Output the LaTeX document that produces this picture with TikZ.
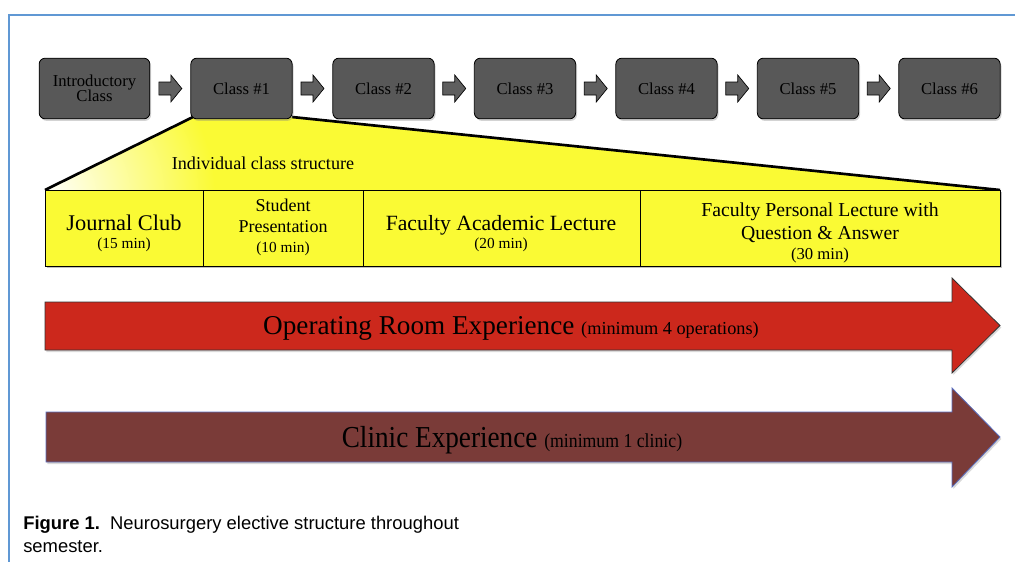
\documentclass[tikz,border=0pt]{standalone}
\usepackage{fontspec}
\setmainfont{Liberation Serif}
\newfontfamily\capfont{Liberation Sans}
\usetikzlibrary{shadows,calc}
\definecolor{frameblue}{RGB}{96,152,212}
\definecolor{boxgray}{RGB}{88,88,88}
\definecolor{arrgray}{RGB}{95,95,95}
\definecolor{tabyellow}{RGB}{250,250,52}
\definecolor{orred}{RGB}{204,40,28}
\definecolor{clbrown}{RGB}{122,59,56}
\definecolor{clborder}{RGB}{90,110,190}
\newcommand{\fs}[1]{\fontsize{#1pt}{1.15\dimexpr#1pt\relax}\selectfont}
\begin{document}
\begin{tikzpicture}[x=0.75pt,y=-0.75pt,
  classbox/.style={draw=black, line width=0.6pt, fill=boxgray, rounded corners=4.5pt,
    minimum width=76pt, minimum height=45.5pt, inner sep=0pt, align=center,
    font=\fs{12.5}, drop shadow={opacity=0.35, shadow xshift=1pt, shadow yshift=-1.5pt}},
  cell/.style={draw=black, line width=1pt, fill=tabyellow, minimum height=57pt,
    inner sep=0pt, anchor=north west},
  ctext/.style={anchor=base, inner sep=0pt},
  blockarr/.pic={
    \filldraw[fill=arrgray, draw=black, line width=0.5pt]
      (-11.5,-6.5) -- (0.5,-6.5) -- (0.5,-13.5) -- (11.5,0) -- (0.5,13.5) -- (0.5,6.5) -- (-11.5,6.5) -- cycle;
  }
]
\useasboundingbox (0,0) rectangle (1015,562);
% frame
\draw[frameblue, line width=1.6pt] (1015,15) -- (9,15) -- (9,562);

% trapezoid
\coordinate (tl) at (193,117);
\coordinate (tr) at (292,117);
\coordinate (bl) at (45,190);
\coordinate (br) at (1000,190);
\fill[tabyellow] (tl) -- (tr) -- (br) -- (bl) -- cycle;
\begin{scope}
  \clip (tl) -- (tr) -- (br) -- (bl) -- cycle;
  \shade[inner color=white, outer color=tabyellow] (45,195) circle (170);
\end{scope}
\draw[black, line width=2pt] (tl) -- (bl);
\draw[black, line width=2pt] (tr) -- (br);
\node[font=\fs{13.6}] (ics) at (263,163) {Individual class structure};

% class boxes
\node[classbox, minimum width=83pt] (intro) at (94.5,88.5) {Introductory\\[-3pt]Class};
\node[classbox] (c1) at (241.5,88.5) {Class \#1};
\node[classbox] (c2) at (383.5,88.5) {Class \#2};
\node[classbox] (c3) at (525,88.5) {Class \#3};
\node[classbox] (c4) at (666.5,88.5) {Class \#4};
\node[classbox] (c5) at (808,88.5) {Class \#5};
\node[classbox] (c6) at (949.5,88.5) {Class \#6};
\foreach \a/\b in {intro/c1,c1/c2,c2/c3,c3/c4,c4/c5,c5/c6}{
  \path ($(\a.east)!0.5!(\b.west)$) pic {blockarr};
}

% table
\begin{scope}[drop shadow={opacity=0.3, shadow xshift=1pt, shadow yshift=-1.5pt}]
\fill[black, opacity=0.25] (47,192) rectangle (1002,268);
\end{scope}
\node[cell, minimum width=118.5pt] (jc) at (45,190) {};
\node[cell, minimum width=120pt] (sp) at (203,190) {};
\node[cell, minimum width=207.75pt] (fal) at (363,190) {};
\node[cell, minimum width=270pt] (fpl) at (640,190) {};

\node[ctext, font=\fs{16.8}] (jc1) at (124,230) {Journal Club};
\node[ctext, font=\fs{11.5}] (jc2) at (124,248) {(15 min)};
\node[ctext, font=\fs{13.5}] (sp1) at (283,211) {Student};
\node[ctext, font=\fs{13.5}] (sp2) at (283,232) {Presentation};
\node[ctext, font=\fs{11.5}] (sp3) at (283,252) {(10 min)};
\node[ctext, font=\fs{16.3}] (fal1) at (501,230) {Faculty Academic Lecture};
\node[ctext, font=\fs{11.5}] (fal2) at (501,248) {(20 min)};
\node[ctext, font=\fs{14.8}] (fpl1) at (820,216) {Faculty Personal Lecture with};
\node[ctext, font=\fs{14.8}] (fpl2) at (820,239) {Question \& Answer};
\node[ctext, font=\fs{12.5}] (fpl3) at (820,259) {(30 min)};

% operating room arrow
\filldraw[fill=orred, draw=black!80, line width=0.6pt,
  drop shadow={opacity=0.3, shadow xshift=1pt, shadow yshift=-1.5pt}]
  (45,302) -- (952,302) -- (952,278) -- (1000,325.5) -- (952,373) -- (952,350) -- (45,350) -- cycle;
\node (or) at (511,328) {\fs{20.4}Operating Room Experience \fs{13.7}(minimum 4 operations)};

% clinic arrow
\filldraw[fill=clbrown, draw=clborder, line width=0.6pt,
  drop shadow={opacity=0.3, shadow xshift=1pt, shadow yshift=-1.5pt}]
  (46,412) -- (952,412) -- (952,388) -- (1000,437) -- (952,487) -- (952,462) -- (46,462) -- cycle;
\node (cl) at (512,440) {\scalebox{1}[1.12]{\fs{20.4}Clinic Experience \fs{13.3}(minimum 1 clinic)}};

% caption
\node[anchor=base west, inner sep=0pt, font=\capfont\fs{13.8}] (cap1) at (23,529)
  {\textbf{Figure 1.}\ \ Neurosurgery elective structure throughout};
\node[anchor=base west, inner sep=0pt, font=\capfont\fs{13.8}] (cap2) at (23,552)
  {semester.};
\end{tikzpicture}
\end{document}
